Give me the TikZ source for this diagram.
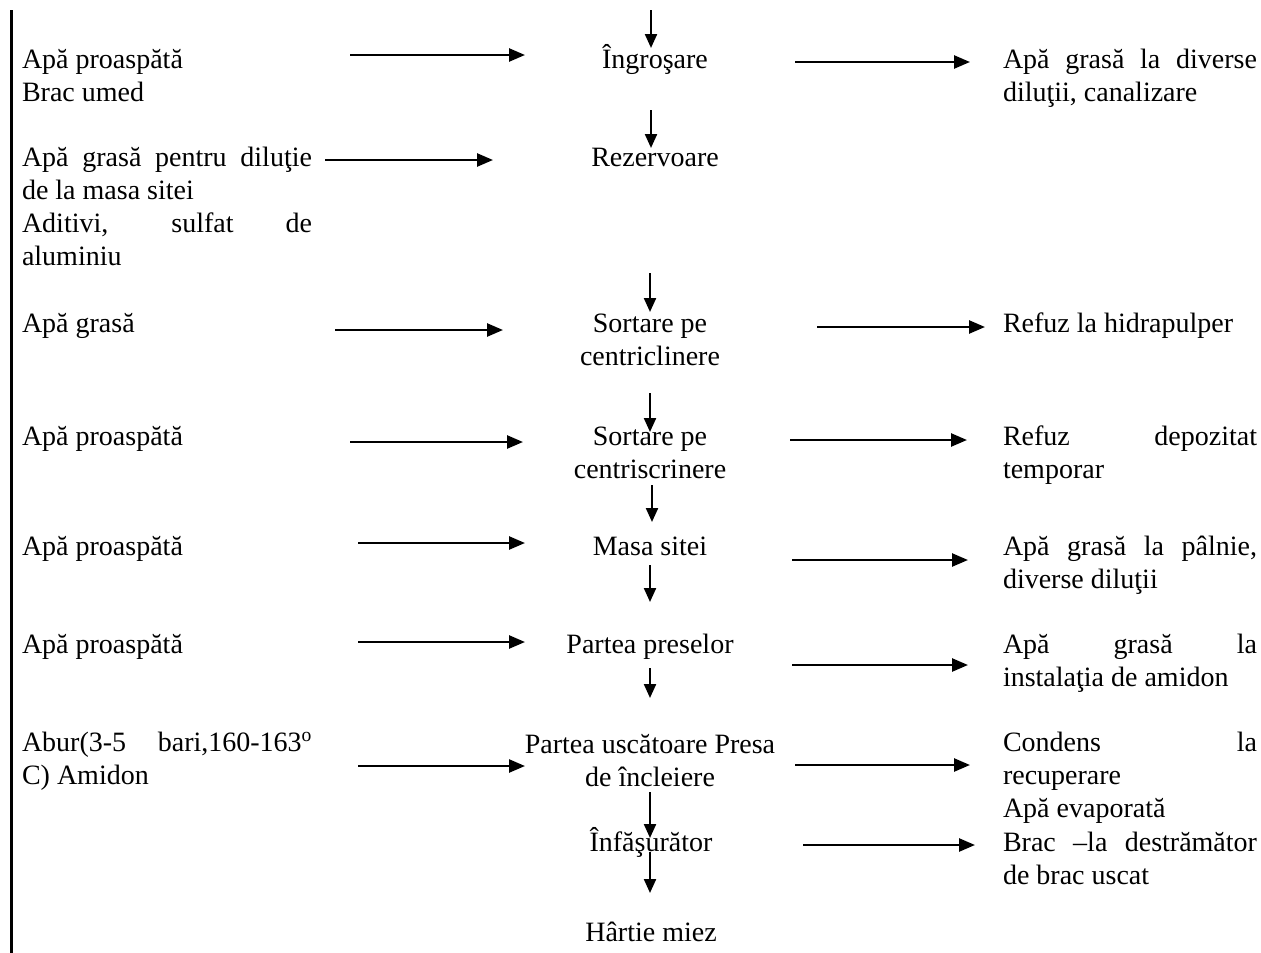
\documentclass[tikz,border=0pt]{standalone}
\usepackage{fontspec}
\setmainfont{Liberation Serif}
\usetikzlibrary{arrows.meta}
\tolerance=10000
\hbadness=10000
\begin{document}
\begin{tikzpicture}[x=1pt,y=-1pt,
  txt/.style={inner sep=0pt, outer sep=0pt, font=\fontsize{28}{33}\selectfont},
  lefttxt/.style={txt, text width=290pt, align=justify, anchor=base west},
  righttxt/.style={txt, text width=254pt, align=justify, anchor=base west},
  midtxt/.style={txt, text width=320pt, align=flush center, anchor=base},
  harrow/.style={line width=2.5pt, -{Triangle[length=16pt,width=13pt]}},
  varrow/.style={line width=2.2pt, -{Triangle[length=14pt,width=12pt]}}]
\useasboundingbox (0,0) rectangle (1261,953);
% left bar
\draw[line width=3pt] (11,10) -- (11,953);

% centre column
\node[midtxt] (ingr) at (655,68) {Îngroşare};
\node[midtxt] (rez) at (655,166) {Rezervoare};
\node[midtxt] (sort1) at (650,332) {Sortare pe\\centriclinere};
\node[midtxt] (sort2) at (650,445) {Sortare pe\\centriscrinere};
\node[midtxt] (masa) at (650,555) {Masa sitei};
\node[midtxt] (prese) at (650,653) {Partea preselor};
\node[midtxt] (usc) at (650,753) {Partea uscătoare Presa\\de încleiere};
\node[midtxt] (inf) at (651,851) {Înfăşurător};
\node[midtxt] (hart) at (651,941) {Hârtie miez};

% left column
\node[lefttxt] (l1) at (22,68) {Apă proaspătă\par Brac umed};
\node[lefttxt] (l2) at (22,166) {Apă grasă pentru diluţie\linebreak de la masa sitei\par Aditivi, sulfat de\linebreak aluminiu};
\node[lefttxt] (l3) at (22,332) {Apă grasă};
\node[lefttxt] (l4) at (22,445) {Apă proaspătă};
\node[lefttxt] (l5) at (22,555) {Apă proaspătă};
\node[lefttxt] (l6) at (22,653) {Apă proaspătă};
\node[lefttxt] (l7) at (22,751) {Abur(3-5 bari,160-163\textsuperscript{o}\linebreak C) Amidon};

% right column
\node[righttxt] (r1) at (1003,68) {Apă grasă la diverse\linebreak diluţii, canalizare};
\node[righttxt] (r3) at (1003,332) {Refuz la hidrapulper};
\node[righttxt] (r4) at (1003,445) {Refuz depozitat\linebreak temporar};
\node[righttxt] (r5) at (1003,555) {Apă grasă la pâlnie,\linebreak diverse diluţii};
\node[righttxt] (r6) at (1003,653) {Apă grasă la\linebreak instalaţia de amidon};
\node[righttxt] (r7) at (1003,751) {Condens la\linebreak recuperare\par Apă evaporată};
\node[righttxt] (r8) at (1003,851) {Brac --la destrămător\linebreak de brac uscat};

% arrow end points
\coordinate (v0s) at (651,10);  \coordinate (v0e) at (651,48);
\coordinate (v1s) at (651,110); \coordinate (v1e) at (651,148);
\coordinate (v2s) at (650,273); \coordinate (v2e) at (650,312);
\coordinate (v3s) at (650,393); \coordinate (v3e) at (650,432);
\coordinate (v4s) at (652,485); \coordinate (v4e) at (652,522);
\coordinate (v5s) at (650,565); \coordinate (v5e) at (650,602);
\coordinate (v6s) at (650,668); \coordinate (v6e) at (650,698);
\coordinate (v7s) at (650,792); \coordinate (v7e) at (650,838);
\coordinate (v8s) at (650,852); \coordinate (v8e) at (650,893);

\coordinate (h1s) at (350,55);  \coordinate (h1e) at (525,55);
\coordinate (h2s) at (325,160); \coordinate (h2e) at (493,160);
\coordinate (h3s) at (335,330); \coordinate (h3e) at (503,330);
\coordinate (h4s) at (350,442); \coordinate (h4e) at (523,442);
\coordinate (h5s) at (358,543); \coordinate (h5e) at (525,543);
\coordinate (h6s) at (358,642); \coordinate (h6e) at (525,642);
\coordinate (h7s) at (358,766); \coordinate (h7e) at (525,766);

\coordinate (k1s) at (795,62);  \coordinate (k1e) at (970,62);
\coordinate (k3s) at (817,327); \coordinate (k3e) at (985,327);
\coordinate (k4s) at (790,440); \coordinate (k4e) at (967,440);
\coordinate (k5s) at (792,560); \coordinate (k5e) at (968,560);
\coordinate (k6s) at (792,665); \coordinate (k6e) at (968,665);
\coordinate (k7s) at (795,765); \coordinate (k7e) at (970,765);
\coordinate (k8s) at (803,845); \coordinate (k8e) at (975,845);

\foreach \i in {0,...,8} {\draw[varrow] (v\i s) -- (v\i e);}
\foreach \i in {1,...,7} {\draw[harrow] (h\i s) -- (h\i e);}
\foreach \i in {1,3,4,5,6,7,8} {\draw[harrow] (k\i s) -- (k\i e);}
\end{tikzpicture}
\end{document}
